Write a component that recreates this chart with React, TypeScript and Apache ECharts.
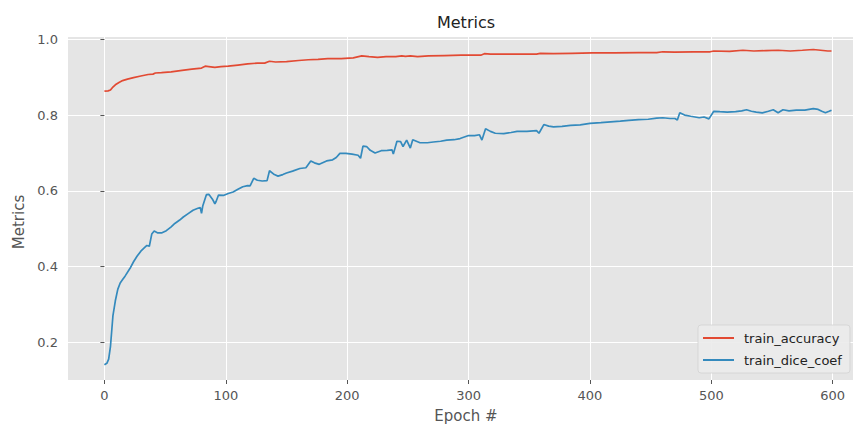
import React, { useEffect, useRef } from "react";
import * as echarts from "echarts";

const diceEpochs = [0, 2, 3.5, 5, 7, 9, 11, 13, 15, 17, 21, 24, 27, 30, 33, 35, 37, 39, 41, 44, 47, 51, 55, 58, 62, 65, 69, 73, 77, 79, 80, 81, 84, 86, 89, 91, 92, 94, 98, 102, 106, 110, 114, 118, 120, 123, 126, 130, 134, 136, 140, 143, 147, 150, 155, 161, 166, 170, 173, 177, 183, 188, 191, 194, 199, 204, 209, 211, 213, 216, 219, 223, 228, 233, 237, 238, 241, 244, 246, 249, 252, 254, 257, 260, 266, 271, 277, 282, 288, 293, 300, 305, 309, 311, 314, 318, 322, 329, 335, 340, 348, 356, 358, 362, 366, 370, 377, 384, 392, 400, 409, 417, 425, 432, 440, 448, 455, 460, 466, 470, 472, 474, 478, 483, 490, 494, 498, 502, 507, 513, 520, 525, 529, 533, 537, 542, 547, 551, 555, 559, 564, 570, 577, 584, 588, 591, 594, 597, 599];
const diceValues = [0.141, 0.145, 0.156, 0.19, 0.27, 0.31, 0.34, 0.357, 0.366, 0.375, 0.395, 0.413, 0.428, 0.441, 0.45, 0.456, 0.454, 0.486, 0.494, 0.489, 0.489, 0.495, 0.505, 0.514, 0.523, 0.531, 0.54, 0.549, 0.554, 0.556, 0.541, 0.56, 0.59, 0.591, 0.578, 0.566, 0.572, 0.589, 0.588, 0.593, 0.597, 0.604, 0.611, 0.614, 0.613, 0.633, 0.628, 0.626, 0.627, 0.653, 0.643, 0.639, 0.643, 0.647, 0.652, 0.659, 0.661, 0.679, 0.674, 0.67, 0.679, 0.682, 0.688, 0.699, 0.699, 0.697, 0.694, 0.686, 0.718, 0.717, 0.707, 0.7, 0.706, 0.707, 0.708, 0.697, 0.731, 0.73, 0.717, 0.734, 0.713, 0.735, 0.731, 0.727, 0.727, 0.729, 0.731, 0.734, 0.735, 0.738, 0.746, 0.746, 0.748, 0.734, 0.764, 0.757, 0.752, 0.751, 0.754, 0.757, 0.757, 0.759, 0.752, 0.775, 0.771, 0.769, 0.77, 0.773, 0.774, 0.778, 0.78, 0.782, 0.784, 0.786, 0.788, 0.789, 0.792, 0.793, 0.791, 0.791, 0.787, 0.806, 0.8, 0.797, 0.793, 0.795, 0.79, 0.81, 0.809, 0.808, 0.809, 0.811, 0.814, 0.81, 0.808, 0.806, 0.81, 0.814, 0.806, 0.814, 0.811, 0.813, 0.813, 0.817, 0.815, 0.81, 0.806, 0.81, 0.813];

const accEpochs = [0, 3, 5, 7, 9, 12, 15, 19, 24, 30, 36, 40, 42, 47, 55, 64, 72, 80, 83, 86, 91, 96, 102, 110, 118, 126, 132, 136, 141, 150, 160, 168, 176, 184, 195, 205, 212, 218, 225, 232, 240, 245, 248, 252, 258, 267, 280, 294, 305, 310, 313, 318, 330, 345, 356, 359, 370, 385, 402, 420, 440, 455, 460, 470, 485, 499, 502, 515, 526, 535, 545, 555, 565, 575, 584, 590, 596, 599];
const accValues = [0.863, 0.864, 0.866, 0.874, 0.88, 0.886, 0.891, 0.895, 0.899, 0.903, 0.907, 0.908, 0.911, 0.912, 0.914, 0.918, 0.921, 0.924, 0.929, 0.928, 0.926, 0.928, 0.929, 0.932, 0.935, 0.937, 0.937, 0.942, 0.94, 0.941, 0.944, 0.946, 0.947, 0.949, 0.949, 0.951, 0.956, 0.954, 0.952, 0.954, 0.954, 0.956, 0.955, 0.956, 0.954, 0.956, 0.957, 0.958, 0.958, 0.958, 0.962, 0.961, 0.961, 0.961, 0.961, 0.963, 0.962, 0.963, 0.964, 0.964, 0.965, 0.965, 0.967, 0.966, 0.967, 0.967, 0.969, 0.968, 0.971, 0.969, 0.97, 0.971, 0.969, 0.971, 0.973, 0.971, 0.969, 0.969];

const xTicks = [0, 100, 200, 300, 400, 500, 600];
const yTicks = [0.2, 0.4, 0.6, 0.8, 1.0];
const seriesNames = ["train_accuracy", "train_dice_coef"];

const FONT = "DejaVu Sans";

export default function App() {
  const ref = useRef<HTMLDivElement>(null);
  useEffect(() => {
    if (!ref.current) return;
    const chart = echarts.init(ref.current, undefined, { renderer: "svg" });
    const acc = accEpochs.map((e, i) => [e, accValues[i]]);
    const dice = diceEpochs.map((e, i) => [e, diceValues[i]]);
    chart.setOption({
      animation: false,
      backgroundColor: "#ffffff",
      title: {
        text: "Metrics",
        left: 461,
        top: 9,
        textAlign: "center",
        textStyle: { fontFamily: FONT, fontSize: 16, fontWeight: "normal", color: "#222" },
      },
      grid: {
        left: 68,
        top: 37,
        right: 0,
        height: 343,
        show: true,
        backgroundColor: "#E5E5E5",
        borderWidth: 0,
      },
      xAxis: {
        type: "value",
        min: -30,
        max: 616.7,
        axisLine: { show: false },
        axisTick: { show: true, length: 4, lineStyle: { color: "#555", width: 1 }, customValues: xTicks },
        axisLabel: { color: "#555", fontFamily: FONT, fontSize: 13, margin: 9, customValues: xTicks, formatter: (v: number) => String(v) },
        splitLine: { show: true, lineStyle: { color: "#ffffff", width: 1 } },
      },
      yAxis: {
        type: "value",
        min: 0.101,
        max: 1.006,
        axisLine: { show: false },
        axisTick: { show: true, length: 4, lineStyle: { color: "#555", width: 1 }, customValues: yTicks },
        axisLabel: { color: "#555", fontFamily: FONT, fontSize: 13, margin: 10, customValues: yTicks, formatter: (v: number) => v.toFixed(1) },
        splitLine: { show: true, lineStyle: { color: "#ffffff", width: 1 } },
      },
      legend: {
        orient: "vertical",
        left: 698,
        top: 325,
        padding: [5, 8, 5, 5],
        itemGap: 6,
        itemWidth: 31,
        itemHeight: 2,
        icon: "rect",
        backgroundColor: "rgba(235,235,235,0.9)",
        borderColor: "rgba(210,210,210,0.8)",
        borderWidth: 1,
        borderRadius: 3,
        textStyle: { fontFamily: FONT, fontSize: 13, color: "#222", lineHeight: 16, padding: [0, 0, 0, 5] },
        data: seriesNames,
      },
      graphic: [
        {
          type: "text",
          x: 466,
          y: 416,
          style: { text: "Epoch #", fontFamily: FONT, fontSize: 15, fill: "#555", textAlign: "center", textVerticalAlign: "middle" },
        },
        {
          type: "text",
          x: 19,
          y: 222,
          rotation: Math.PI / 2,
          style: { text: "Metrics", fontFamily: FONT, fontSize: 15, fill: "#555", textAlign: "center", textVerticalAlign: "middle" },
        },
      ],
      series: [
        {
          name: seriesNames[0],
          type: "line",
          data: acc,
          showSymbol: false,
          symbol: "none",
          lineStyle: { color: "#E24A33", width: 1.7 },
          itemStyle: { color: "#E24A33" },
        },
        {
          name: seriesNames[1],
          type: "line",
          data: dice,
          showSymbol: false,
          symbol: "none",
          lineStyle: { color: "#348ABD", width: 1.7 },
          itemStyle: { color: "#348ABD" },
        },
      ],
    });
    return () => chart.dispose();
  }, []);
  return <div ref={ref} style={{ width: 853, height: 430, position: "absolute", left: 0, top: 0 }} />;
}
